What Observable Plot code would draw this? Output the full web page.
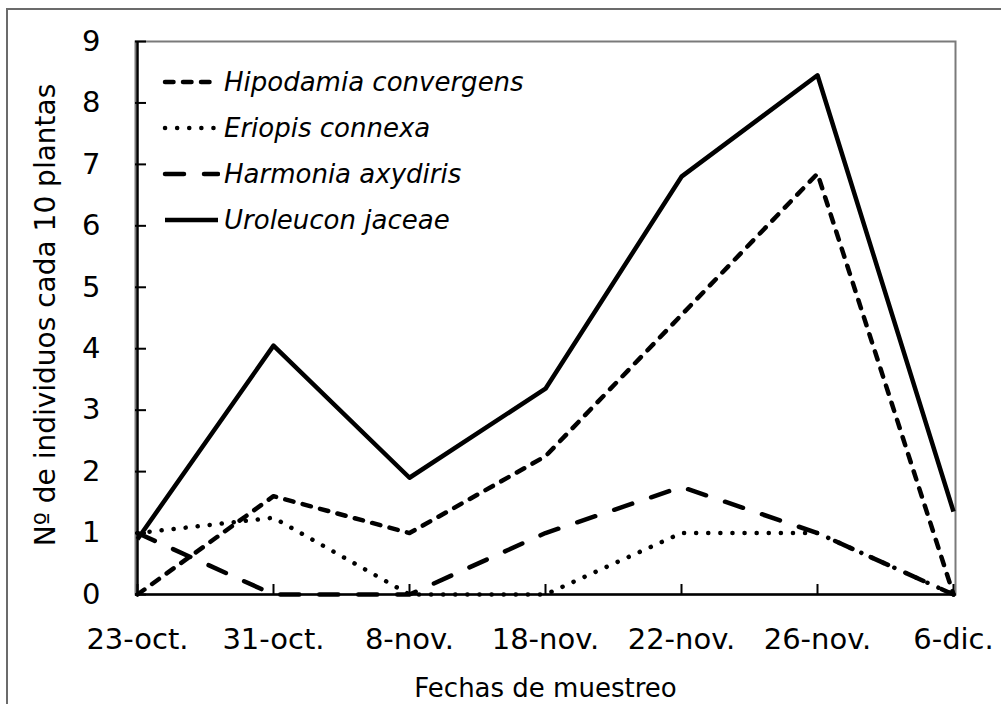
<!DOCTYPE html>
<html>
<head>
<meta charset="utf-8">
<script src="https://cdn.jsdelivr.net/npm/d3@7"></script>
<script src="https://cdn.jsdelivr.net/npm/@observablehq/plot@0.6"></script>
<style>
  html, body { margin: 0; padding: 0; background: #fff; }
  #wrap { position: relative; width: 1001px; height: 704px; overflow: hidden; font-family: "DejaVu Sans", sans-serif; }
  #border { position: absolute; left: 6px; top: 8px; width: 1100px; height: 800px; border-top: 2px solid #6b6b6b; border-left: 2px solid #6b6b6b; }
  #legend { position: absolute; left: 160px; top: 59px; }
  .row { display: flex; align-items: center; height: 46px; }
  .row svg { display: block; }
  .row span { font-style: italic; font-size: 26px; color: #000; margin-left: 4px; line-height: 46px; }
</style>
</head>
<body>
<div id="wrap">
  <div id="border"></div>
  <div id="chart"></div>
  <div id="legend"></div>
</div>
<script>
// ---- data ----
const dates = ["23-oct.", "31-oct.", "8-nov.", "18-nov.", "22-nov.", "26-nov.", "6-dic."];
const hipodamia = [0, 1.6, 1.0, 2.25, 4.55, 6.85, 0];
const eriopis = [1.0, 1.25, 0, 0, 1.0, 1.0, 0];
const harmonia = [1.0, 0, 0, 1.0, 1.75, 1.0, 0];
const uroleucon = [0.9, 4.05, 1.9, 3.35, 6.8, 8.45, 1.35];
const seriesNames = ["Hipodamia convergens", "Eriopis connexa", "Harmonia axydiris", "Uroleucon jaceae"];
const yTicks = [0, 1, 2, 3, 4, 5, 6, 7, 8, 9];
const xTitle = "Fechas de muestreo";
const yTitle = "Nº de individuos cada 10 plantas";

// styles per series
const styles = [
  {dash: "8.5 9.5", cap: "round"},
  {dash: "0.1 12", cap: "round"},
  {dash: "19 20", cap: "round"},
  {dash: null, cap: "butt"}
];
const seriesValues = [hipodamia, eriopis, harmonia, uroleucon];

const tables = seriesValues.map((vals, s) => dates.map((d, i) => ({date: d, value: vals[i], series: seriesNames[s]})));

const lineMarks = tables.map((t, s) => Plot.lineY(t, {
  x: "date", y: "value", stroke: "#000", strokeWidth: 4.5,
  strokeDasharray: styles[s].dash, strokeLinecap: styles[s].cap, strokeLinejoin: "round"
}));

const chart = Plot.plot({
  width: 1001, height: 704,
  marginLeft: 135, marginRight: 46, marginTop: 41, marginBottom: 110,
  style: {fontFamily: "DejaVu Sans, sans-serif", color: "#000", background: "transparent"},
  x: {type: "point", domain: dates, padding: 0, label: null},
  y: {domain: [0, 9], label: null},
  marks: [
    Plot.frame({stroke: "#7a7a7a", strokeWidth: 2}),
    Plot.axisY({ticks: yTicks, tickSize: -11, tickPadding: 46, fontSize: 29, strokeWidth: 2, label: null, tickFormat: d => String(d)}),
    Plot.axisX({tickSize: -10, tickPadding: 44, fontSize: 29, strokeWidth: 2, label: null}),
    ...lineMarks,
    Plot.ruleX([dates[0]], {stroke: "#000", strokeWidth: 2.5}),
    Plot.ruleY([0], {stroke: "#000", strokeWidth: 2.5}),
    Plot.text([yTitle], {frameAnchor: "left", textAnchor: "middle", rotate: -90, dx: -89, dy: -3, lineAnchor: "middle", fontSize: 28, fill: "#000"}),
    Plot.text([xTitle], {frameAnchor: "bottom", dy: 84, lineAnchor: "top", fontSize: 26, fill: "#000"})
  ]
});
document.getElementById("chart").appendChild(chart);

// legend
const legend = document.getElementById("legend");
seriesNames.forEach((name, s) => {
  const row = document.createElement("div");
  row.className = "row";
  const dash = styles[s].dash ? `stroke-dasharray="${styles[s].dash}"` : "";
  row.innerHTML = `<svg width="60" height="46"><line x1="5" x2="58" y1="23" y2="23" stroke="#000" stroke-width="4.5" stroke-linecap="${styles[s].cap}" ${dash}/></svg><span>${name}</span>`;
  legend.appendChild(row);
});
</script>
</body>
</html>
